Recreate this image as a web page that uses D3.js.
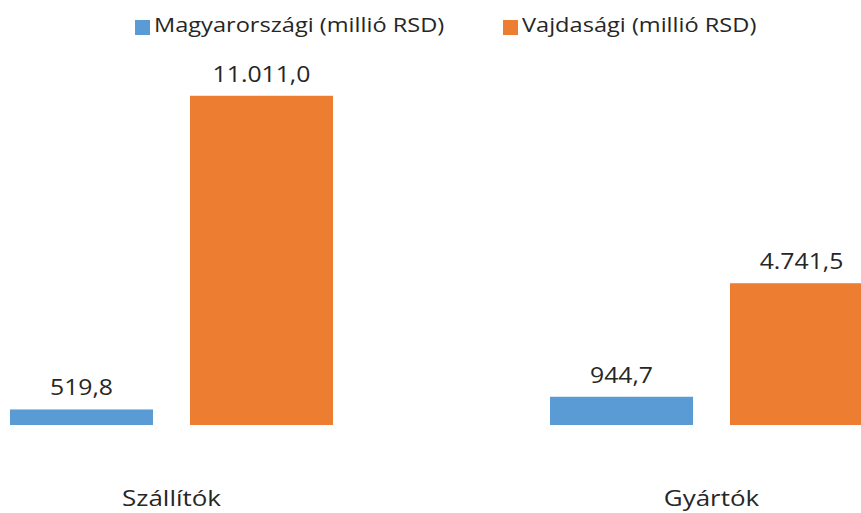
<!DOCTYPE html>
<html><head><meta charset="utf-8">
<script src="https://cdn.jsdelivr.net/npm/d3@7"></script>
<style>body{margin:0;background:#fff}svg{display:block;overflow:hidden}</style>
</head><body><svg id="c" width="861" height="513"></svg>
<script>
const categories = ["Szállítók", "Gyártók"];
const seriesNames = ["Magyarországi (millió RSD)", "Vajdasági (millió RSD)"];
const magyar = [519.8, 944.7];
const vajdasagi = [11011.0, 4741.5];
const colors = ["#5B9BD5", "#ED7D31"];

const svg = d3.select("#c");
const font = "'Open Sans', sans-serif";
const SX = 1.18;
const loc = d3.formatLocale({decimal: ",", thousands: ".", grouping: [3], currency: ["", ""]});
const fmt = loc.format(",.1f");

const y = d3.scaleLinear().domain([0, 12000]).range([425, 425 - 12000 * 0.0299]);
const x0 = d3.scaleBand().domain(categories).range([-98.5, 981.5]);
const x1 = d3.scaleBand().domain(seriesNames).range([108.5, 431.5]).paddingInner(37 / 180);

const data = categories.map((c, i) => ({cat: c, vals: [magyar[i], vajdasagi[i]]}));

const g = svg.selectAll("g.grp").data(data).join("g")
  .attr("transform", d => `translate(${x0(d.cat)},0)`);
g.selectAll("rect").data(d => d.vals.map((v, j) => ({v, s: seriesNames[j], j}))).join("rect")
  .attr("x", d => x1(d.s)).attr("width", x1.bandwidth())
  .attr("y", d => y(d.v)).attr("height", d => y(0) - y(d.v))
  .attr("fill", d => colors[d.j]);
g.selectAll("text.v").data(d => d.vals.map((v, j) => ({v, s: seriesNames[j], j}))).join("text")
  .attr("class", "v")
  .attr("transform", d => `translate(${x1(d.s) + x1.bandwidth() / 2},${y(d.v) - 14}) scale(${SX},1)`)
  .attr("text-anchor", "middle").attr("font-family", font).attr("font-size", 21)
  .attr("fill", "#262626").text(d => fmt(d.v));

svg.selectAll("text.cat").data(categories).join("text").attr("class", "cat")
  .attr("transform", d => `translate(${x0(d) + x0.bandwidth() / 2},506) scale(${SX},1)`)
  .attr("text-anchor", "middle").attr("font-family", font).attr("font-size", 22)
  .attr("fill", "#262626").text(d => d);

const legX = [135, 503];
const leg = svg.selectAll("g.leg").data(seriesNames).join("g").attr("class", "leg")
  .attr("transform", (d, i) => `translate(${legX[i]},0)`);
leg.append("rect").attr("x", 0).attr("y", 20).attr("width", 15).attr("height", 15)
  .attr("fill", (d, i) => colors[i]);
leg.append("text").attr("transform", `translate(19,32) scale(${SX},1)`)
  .attr("font-family", font).attr("font-size", 20)
  .attr("fill", "#262626").text(d => d);
</script></body></html>
